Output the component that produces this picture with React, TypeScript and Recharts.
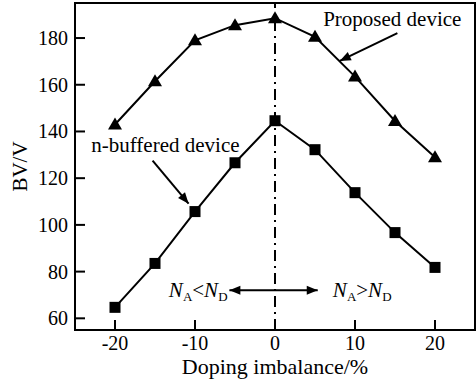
import React from "react";
import {
  LineChart,
  Line,
  XAxis,
  YAxis,
  ReferenceLine,
  ReferenceArea,
  ReferenceDot,
} from "recharts";

const doping = [-20, -15, -10, -5, 0, 5, 10, 15, 20];
const proposed = [143, 161.5, 179, 185.5, 188.5, 180.5, 163.5, 144.5, 129];
const nBuffered = [64.7, 83.5, 105.7, 126.6, 144.6, 132.2, 113.8, 96.7, 81.8];
const xTicks = [-20, -10, 0, 10, 20];
const yTicks = [60, 80, 100, 120, 140, 160, 180];

const data = doping.map((x, i) => ({ x, proposed: proposed[i], nBuffered: nBuffered[i] }));

const FONT = "Liberation Serif";
const fontStyle = { fontFamily: FONT };

const YTick = (props: any) => {
  const { x, y, payload } = props;
  return (
    <g>
      <line x1={x} y1={y} x2={x + 10} y2={y} stroke="#000" strokeWidth={2} />
      <text x={x - 7} y={y} dy="0.35em" textAnchor="end" fontSize={20} style={fontStyle} fill="#000">
        {payload.value}
      </text>
    </g>
  );
};

const XTick = (props: any) => {
  const { x, y, payload } = props;
  return (
    <g>
      <line x1={x} y1={y} x2={x} y2={y - 10} stroke="#000" strokeWidth={2} />
      <text x={x} y={y + 20} textAnchor="middle" fontSize={20} style={fontStyle} fill="#000">
        {payload.value}
      </text>
    </g>
  );
};

const TriDot = (p: any) => {
  const { cx, cy, index } = p;
  if (cx == null || cy == null) return <g key={index} />;
  return (
    <polygon
      key={index}
      points={`${cx},${cy - 7} ${cx - 7},${cy + 5} ${cx + 7},${cy + 5}`}
      fill="#000"
    />
  );
};

const SqDot = (p: any) => {
  const { cx, cy, index } = p;
  if (cx == null || cy == null) return <g key={index} />;
  return <rect key={index} x={cx - 5.5} y={cy - 5.5} width={11} height={11} fill="#000" />;
};

const head = (x1: number, y1: number, x2: number, y2: number, len = 11, half = 4.5) => {
  const dx = x2 - x1;
  const dy = y2 - y1;
  const d = Math.sqrt(dx * dx + dy * dy) || 1;
  const ux = dx / d;
  const uy = dy / d;
  const bx = x2 - ux * len;
  const by = y2 - uy * len;
  return `${x2},${y2} ${bx - uy * half},${by + ux * half} ${bx + uy * half},${by - ux * half}`;
};

const arrowShape = (both: boolean) => (props: any) => {
  const { x1, y1, x2, y2 } = props;
  if ([x1, y1, x2, y2].some((v) => v == null || isNaN(v))) return <g />;
  return (
    <g>
      <line x1={x1} y1={y1} x2={x2} y2={y2} stroke="#000" strokeWidth={2} />
      <polygon points={head(x1, y1, x2, y2)} fill="#000" />
      {both && <polygon points={head(x2, y2, x1, y1)} fill="#000" />}
    </g>
  );
};

const textShape = (content: React.ReactNode) => (props: any) => {
  const { cx, cy } = props;
  return (
    <text x={cx} y={cy} textAnchor="middle" fontSize={21} style={fontStyle} fill="#000">
      {content}
    </text>
  );
};

const naLess = (
  <>
    <tspan fontStyle="italic">N</tspan>
    <tspan fontSize={13} dy={4}>A</tspan>
    <tspan dy={-4}>&lt;</tspan>
    <tspan fontStyle="italic">N</tspan>
    <tspan fontSize={13} dy={4}>D</tspan>
  </>
);
const naMore = (
  <>
    <tspan fontStyle="italic">N</tspan>
    <tspan fontSize={13} dy={4}>A</tspan>
    <tspan dy={-4}>&gt;</tspan>
    <tspan fontStyle="italic">N</tspan>
    <tspan fontSize={13} dy={4}>D</tspan>
  </>
);

const YLabel = (props: any) => {
  const vb = props.viewBox || {};
  const x = vb.x + 20;
  const y = vb.y + vb.height / 2;
  return (
    <text
      x={x}
      y={y}
      transform={`rotate(-90, ${x}, ${y})`}
      textAnchor="middle"
      dy="0.35em"
      fontSize={21}
      style={fontStyle}
      fill="#000"
    >
      BV/V
    </text>
  );
};

const XLabel = (props: any) => {
  const vb = props.viewBox || {};
  const x = vb.x + vb.width / 2;
  const y = vb.y + 44;
  return (
    <text x={x} y={y} textAnchor="middle" fontSize={22} style={fontStyle} fill="#000">
      Doping imbalance/%
    </text>
  );
};

export default function App() {
  return (
    <div style={{ position: "absolute", left: 0, top: 0, background: "#fff" }}>
      <LineChart
        width={476}
        height={382}
        data={data}
        margin={{ top: 3, right: 1, bottom: 0, left: 0 }}
        style={fontStyle}
      >
        <XAxis
          dataKey="x"
          type="number"
          domain={[-25, 25]}
          ticks={xTicks}
          tickSize={0}
          tickMargin={0}
          tick={<XTick />}
          height={52}
          axisLine={{ stroke: "#000", strokeWidth: 2 }}
          allowDataOverflow
          label={<XLabel />}
        />
        <YAxis
          type="number"
          domain={[55, 195]}
          ticks={yTicks}
          tickSize={0}
          tickMargin={0}
          tick={<YTick />}
          width={75}
          axisLine={{ stroke: "#000", strokeWidth: 2 }}
          allowDataOverflow
          label={<YLabel />}
        />
        <ReferenceArea
          x1={-25}
          x2={25}
          y1={55}
          y2={195}
          fill="none"
          stroke="#000"
          strokeWidth={2}
          ifOverflow="visible"
        />
        <ReferenceLine x={0} stroke="#000" strokeWidth={2} strokeDasharray="11 5 2 5" />
        <Line
          dataKey="proposed"
          stroke="#000"
          strokeWidth={2}
          dot={TriDot}
          activeDot={false}
          isAnimationActive={false}
        />
        <Line
          dataKey="nBuffered"
          stroke="#000"
          strokeWidth={2}
          dot={SqDot}
          activeDot={false}
          isAnimationActive={false}
        />
        <ReferenceLine
          segment={[{ x: 15.3, y: 182.1 }, { x: 8.1, y: 170.2 }]}
          shape={arrowShape(false)}
          ifOverflow="visible"
        />
        <ReferenceLine
          segment={[{ x: -15.3, y: 127.5 }, { x: -10.8, y: 109.1 }]}
          shape={arrowShape(false)}
          ifOverflow="visible"
        />
        <ReferenceLine
          segment={[{ x: -5.7, y: 72 }, { x: 5.34, y: 72 }]}
          shape={arrowShape(true)}
          ifOverflow="visible"
        />
        <ReferenceDot x={14.66} y={185.1} r={0} ifOverflow="visible" shape={textShape("Proposed device")} />
        <ReferenceDot x={-13.7} y={131.3} r={0} ifOverflow="visible" shape={textShape("n-buffered device")} />
        <ReferenceDot x={-9.6} y={69} r={0} ifOverflow="visible" shape={textShape(naLess)} />
        <ReferenceDot x={10.9} y={69} r={0} ifOverflow="visible" shape={textShape(naMore)} />
      </LineChart>
    </div>
  );
}
